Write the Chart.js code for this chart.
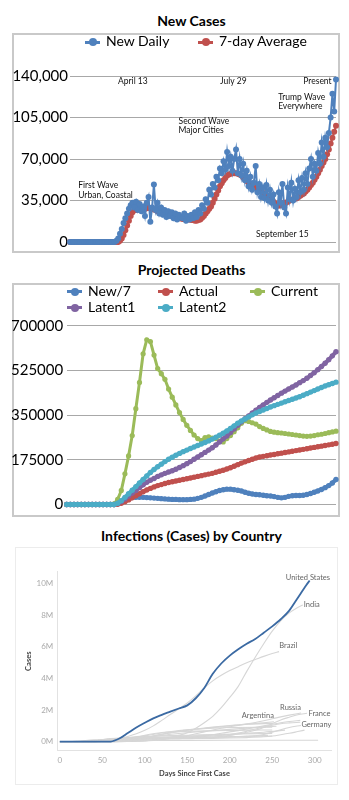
<!DOCTYPE html>
<html>
<head>
<meta charset="utf-8">
<script src="https://cdn.jsdelivr.net/npm/chart.js@4.4.1/dist/chart.umd.min.js"></script>
<style>
body { margin: 0; background: #fff; }
#page { position: relative; width: 349px; height: 800px; overflow: hidden; font-family: Lato, sans-serif; }
.box { position: absolute; box-sizing: border-box; }
canvas { position: absolute; }
.txt { position: absolute; white-space: nowrap; }
.mark { position: absolute; width: 15px; height: 9px; }
.mark::before { content: ''; position: absolute; left: 0; right: 0; top: 3px; height: 3px; background: currentColor; }
.mark::after { content: ''; position: absolute; left: 3.5px; top: 0.5px; width: 8px; height: 8px; border-radius: 50%; background: currentColor; }
</style>
</head>
<body>
<div id="page">
  <div class="box" style="left:12px;top:33px;width:328px;height:220px;border:2px solid #c9c9c9"></div>
  <div class="box" style="left:12px;top:283px;width:328px;height:234px;border:2px solid #c9c9c9"></div>
  <div class="box" style="left:15px;top:547px;width:323px;height:238px;border:1px solid #ececec"></div>
  <canvas id="casesChart" width="328" height="220" style="left:12px;top:33px"></canvas>
  <canvas id="deathsChart" width="328" height="234" style="left:12px;top:283px"></canvas>
  <canvas id="countryChart" width="323" height="238" style="left:15px;top:547px"></canvas>
</div>
<script>
// ---- New Cases (one point every 2 days) ----
const newDaily = [
  0,0,0,0,0,0,0,0,0,0, 0,0,0,0,0,0,0,0,0,0, 0,0,0,0,0,0,
  1000,3000,7000,11000,16000,20000,24000,28000,31000,33000,
  29000,34000,27000,32000,26000,30000,22000,33000,38000,17000,
  29000,48500,27000,33000,24000,29000,23000,27000,21000,26000,
  22000,25000,20000,24000,19000,23000,21000,20000,24000,18000,
  22000,19000,23000,20000,25000,21000,27000,24000,31000,28000,
  36000,33000,44000,40000,49000,46000,55000,52000,62000,58000,
  68000,61000,76000,64000,72000,60000,70000,78000,58000,70000,
  56000,66000,52000,60000,47000,55000,44000,50000,64000,42000,
  49000,38000,46000,37000,48000,35000,44000,33000,40000,30000,
  24000,42000,33000,49000,29000,24000,46000,36000,50000,35000,
  45000,38000,52000,42000,54000,44000,58000,49000,62000,70000,
  55000,66000,60000,75000,66000,84000,72000,88000,80000,92000,
  105000,125000,110000,137000
];
const sevenDayAvg = [
  0,0,0,0,0,0,0,0,0,0, 0,0,0,0,0,0,0,0,0,0, 0,0,0,0,0,0,0,0,
  1000,3000,6000,10000,14000,18000,22000,25000,27000,27000,
  28000,27500,27000,27500,28000,28500,29000,28500,28000,27500,
  27000,26000,25500,25000,24500,24000,23500,23000,22500,22000,
  21500,21000,20500,20000,20000,19500,19500,19000,19000,19000,
  18500,18500,18000,18000,18500,19000,20500,22000,24000,26000,
  28000,30000,33000,36500,40000,43500,47000,49500,52000,54000,
  56000,57000,57500,58000,58000,58000,57500,57000,56000,54500,
  53000,51500,50000,49000,48000,47000,46000,44500,43500,42500,
  41500,40500,39500,38500,37000,35500,34000,32500,31000,30500,
  31000,32000,33000,33000,34000,35000,35500,36000,36500,37000,
  38000,39000,40000,41000,42500,44000,46000,48000,50000,52500,
  55000,58000,61000,64000,67000,70000,74000,78000,83000,88000,
  93000,98000
];
const caseTicks = [0, 35000, 70000, 105000, 140000];
const caseNotes = [
  { text: 'April 13', x: 35.2, y: 135400 },
  { text: 'July 29', x: 91.5, y: 135400 },
  { text: 'Present', x: 138.6, y: 135400 },
  { text: 'Trump Wave', x: 116.6, y: 121800, align: 'left' },
  { text: 'Everywhere', x: 116.6, y: 114300, align: 'left' },
  { text: 'Second Wave', x: 60.8, y: 101800, align: 'left' },
  { text: 'Major Cities', x: 60.8, y: 94000, align: 'left' },
  { text: 'First Wave', x: 4.6, y: 47500, align: 'left' },
  { text: 'Urban, Coastal', x: 4.6, y: 39800, align: 'left' },
  { text: 'September 15', x: 118.9, y: 6800 }
];

// ---- Projected Deaths (one point every 4 days) ----
const newPer7 = [
  0,0,0,0,0,0,0,0,0,0,0,0,0,0,
  3000,9000,17000,23000,27000,28000,28000,28000,27000,26000,
  25000,24000,23000,22000,21000,20000,20000,19000,19000,19000,
  20000,21000,24000,28000,33000,39000,45000,50000,55000,58000,
  60000,60000,58000,56000,53000,48000,44000,41000,39000,38000,
  36000,34000,33000,31000,28000,26000,28000,32000,34000,35000,
  35000,36000,39000,43000,48000,53000,59000,66000,74000,84000,
  98000
];
const actualDeaths = [
  0,0,0,0,0,0,0,0,0,0,0,0,0,0,
  1000,5000,11000,18000,26000,34000,42000,50000,57000,63000,
  69000,74000,78000,82000,86000,89000,92000,95000,98000,101000,
  104000,107000,110000,113000,116000,119000,122000,126000,130000,134000,
  139000,144000,150000,156000,162000,167000,172000,177000,182000,186000,
  188500,191000,193500,196000,198500,201000,203500,206000,208500,211000,
  213500,216000,218500,221000,223500,226000,228500,231000,233500,236000,
  239000
];
const currentDeaths = [
  0,0,0,0,0,0,0,0,0,0,0,0,0,
  3000,20000,55000,120000,190000,270000,375000,478000,590000,645000,
  638000,585000,532000,512000,490000,452000,420000,390000,360000,333000,
  310000,290000,272000,258000,250000,262000,265000,260000,258000,248000,
  245000,258000,270000,285000,300000,318000,328000,325000,320000,315000,
  305000,298000,292000,286000,283000,281000,280000,278000,276000,274000,
  272000,270000,268000,267000,268000,270000,273000,275000,278000,281000,
  284000,287000
];
const latent1 = [
  0,0,0,0,0,0,0,0,0,0,0,0,0,0,
  4000,12000,22000,33000,45000,55000,66000,77000,87000,95000,
  102000,110000,116000,122000,127000,132000,138000,145000,152000,160000,
  168000,177000,186000,195000,204000,213000,222000,233000,245000,257000,
  268000,282000,296000,310000,324000,336000,347000,358000,369000,380000,
  390000,400000,409000,418000,427000,436000,444000,452000,460000,468000,
  477000,485000,494000,505000,516000,528000,540000,553000,567000,582000,
  598000
];
const latent2 = [
  0,0,0,0,0,0,0,0,0,0,0,0,0,0,
  5000,15000,28000,42000,56000,70000,84000,98000,112000,125000,
  137000,148000,158000,168000,177000,185000,193000,200000,207000,213000,
  219000,225000,231000,237000,243000,249000,256000,263000,271000,279000,
  288000,298000,308000,318000,327000,335000,343000,351000,358000,364000,
  370000,376000,382000,387000,392000,397000,402000,407000,412000,417000,
  422000,428000,434000,440000,446000,452000,458000,464000,469000,474000,
  479000
];
const deathTicks = [0, 175000, 350000, 525000, 700000];

// ---- Infections by country: [days since first case, millions] ----
const usCases = [[0,0],[10,0],[20,0],[30,0],[40,0],[50,0],[60,0.01],[70,0.2],[80,0.55],[90,0.9],[100,1.2],[110,1.48],[120,1.7],[130,1.9],[140,2.1],[150,2.3],[160,2.75],[170,3.4],[180,4.3],[190,4.95],[200,5.45],[210,5.85],[220,6.2],[230,6.5],[240,6.9],[250,7.3],[260,7.75],[270,8.3],[280,9.1],[290,9.9],[294,10.2]];
const indiaCases = [[0,0],[50,0],[100,0.05],[110,0.13],[120,0.2],[130,0.28],[140,0.4],[150,0.57],[160,0.85],[170,1.2],[180,1.6],[190,2.15],[200,2.8],[210,3.5],[220,4.45],[230,5.35],[240,6.2],[250,7.0],[260,7.65],[270,8.15],[280,8.5],[286,8.65]];
const brazilCases = [[0,0],[20,0],[40,0.01],[60,0.1],[70,0.2],[80,0.33],[90,0.5],[100,0.72],[110,1.0],[120,1.35],[130,1.72],[140,2.08],[150,2.45],[160,2.9],[170,3.4],[180,3.85],[190,4.2],[200,4.5],[210,4.75],[220,5.0],[230,5.2],[240,5.4],[250,5.58],[258,5.7]];
const russiaCases = [[0,0],[50,0],[60,0.002],[70,0.01],[80,0.05],[90,0.15],[100,0.26],[110,0.37],[120,0.47],[130,0.56],[140,0.64],[150,0.72],[160,0.79],[170,0.84],[180,0.89],[190,0.95],[200,1.0],[210,1.06],[220,1.13],[230,1.22],[240,1.33],[250,1.45],[260,1.57],[270,1.68],[284,1.82]];
const franceCases = [[0,0],[40,0.005],[50,0.03],[60,0.08],[70,0.12],[80,0.14],[90,0.15],[100,0.16],[120,0.17],[140,0.18],[160,0.2],[170,0.23],[180,0.27],[190,0.33],[200,0.4],[210,0.5],[220,0.6],[230,0.72],[240,0.9],[250,1.15],[260,1.38],[270,1.55],[280,1.7],[291,1.8]];
const germanyCases = [[0,0],[40,0.005],[50,0.03],[60,0.1],[70,0.14],[80,0.16],[100,0.18],[140,0.2],[180,0.21],[200,0.23],[220,0.26],[240,0.31],[250,0.36],[260,0.44],[270,0.53],[280,0.64],[288,0.73]];
const argentinaCases = [[0,0],[40,0.002],[60,0.006],[80,0.015],[100,0.045],[110,0.08],[120,0.13],[130,0.2],[140,0.28],[150,0.38],[160,0.5],[170,0.62],[180,0.74],[190,0.85],[200,0.95],[210,1.03],[220,1.1],[230,1.15],[240,1.2],[252,1.26]];
const spainCases = [[0,0],[30,0.001],[40,0.02],[50,0.1],[60,0.17],[70,0.21],[80,0.23],[90,0.24],[120,0.25],[150,0.27],[160,0.3],[170,0.36],[180,0.44],[190,0.53],[200,0.62],[210,0.7],[220,0.8],[230,0.9],[240,1.0],[250,1.1],[260,1.2],[270,1.28],[283,1.35]];
const ukCases = [[0,0],[40,0.005],[50,0.04],[60,0.12],[70,0.18],[80,0.24],[90,0.27],[120,0.29],[150,0.31],[170,0.33],[180,0.36],[190,0.4],[200,0.46],[210,0.55],[220,0.67],[230,0.8],[240,0.92],[250,1.04],[260,1.14],[270,1.19],[283,1.23]];
const italyCases = [[0,0],[30,0.002],[40,0.04],[50,0.13],[60,0.2],[70,0.22],[80,0.23],[100,0.24],[150,0.26],[180,0.27],[200,0.29],[210,0.31],[220,0.34],[230,0.38],[240,0.46],[250,0.6],[260,0.76],[270,0.9],[284,1.03]];
const mexicoCases = [[0,0],[40,0.005],[60,0.04],[80,0.12],[100,0.24],[120,0.4],[140,0.52],[160,0.62],[180,0.7],[200,0.78],[220,0.86],[240,0.94],[255,0.98]];
const peruCases = [[0,0],[30,0.01],[40,0.05],[60,0.15],[80,0.26],[100,0.37],[120,0.55],[140,0.7],[160,0.8],[180,0.86],[200,0.9],[250,0.92]];
const colombiaCases = [[0,0],[40,0.005],[60,0.03],[80,0.1],[100,0.25],[120,0.47],[140,0.67],[160,0.8],[180,0.92],[200,1.02],[220,1.1],[250,1.16]];
const southAfricaCases = [[0,0],[40,0.007],[60,0.04],[80,0.15],[100,0.4],[120,0.58],[140,0.64],[160,0.67],[180,0.69],[200,0.71],[220,0.73],[250,0.74]];
const iranCases = [[0,0],[20,0.02],[40,0.07],[60,0.1],[80,0.15],[100,0.22],[120,0.27],[140,0.32],[160,0.37],[180,0.41],[200,0.45],[220,0.53],[240,0.6],[265,0.73]];
const chinaCases = [[0,0],[10,0.001],[20,0.01],[30,0.04],[40,0.07],[50,0.08],[100,0.083],[200,0.09],[304,0.092]];
const chileCases = [[0,0],[30,0.01],[60,0.1],[80,0.25],[100,0.33],[120,0.37],[150,0.41],[180,0.45],[210,0.49],[250,0.52]];
const turkeyCases = [[0,0],[20,0.03],[40,0.12],[60,0.16],[80,0.19],[100,0.21],[120,0.23],[150,0.26],[180,0.3],[210,0.33],[245,0.4]];
const pakistanCases = [[0,0],[60,0.03],[90,0.1],[110,0.2],[130,0.26],[150,0.28],[180,0.3],[210,0.32],[250,0.35]];
const otherCountries = [indiaCases, brazilCases, russiaCases, franceCases, germanyCases, argentinaCases,
  spainCases, ukCases, italyCases, mexicoCases, peruCases, colombiaCases, southAfricaCases,
  iranCases, chinaCases, chileCases, turkeyCases, pakistanCases];
const countryNotes = [
  { text: 'United States', x: 292, y: 10.38 },
  { text: 'India', x: 296.5, y: 8.65 },
  { text: 'Brazil', x: 269, y: 6.08 },
  { text: 'Russia', x: 271.5, y: 2.18 },
  { text: 'France', x: 305.6, y: 1.8 },
  { text: 'Germany', x: 302, y: 1.1 },
  { text: 'Argentina', x: 233, y: 1.65 }
];
const dayTicks = [0, 50, 100, 150, 200, 250, 300];
const millionTicks = [0, 2, 4, 6, 8, 10];

const BLUE = '#4f81bd', RED = '#c0504d', GREEN = '#9bbb59', PURPLE = '#8064a2', CYAN = '#4bacc6';
Chart.defaults.font.family = 'Lato';

const page = document.getElementById('page');

// text at a baseline position (Lato ascent ~0.987em)
function addText(text, x, baseline, size, weight, color, align) {
  const d = document.createElement('div');
  d.className = 'txt';
  d.textContent = text;
  d.style.font = weight + ' ' + size + 'px Lato, sans-serif';
  d.style.lineHeight = (size * 1.2) + 'px';
  d.style.color = color;
  d.style.top = (baseline - 0.987 * size) + 'px';
  if (align === 'center') {
    d.style.left = (x - 150) + 'px';
    d.style.width = '300px';
    d.style.textAlign = 'center';
  } else {
    d.style.left = x + 'px';
  }
  page.append(d);
}

function addKey(label, color, x, y) {
  const m = document.createElement('div');
  m.className = 'mark';
  m.style.color = color;
  m.style.left = x + 'px';
  m.style.top = (y - 4.5) + 'px';
  page.append(m);
  addText(label, x + 21, y + 5, 14, 'normal', '#000');
}

addText('New Cases', 191.5, 26.7, 14, 'bold', '#000', 'center');
addText('Projected Deaths', 191.5, 276.3, 14, 'bold', '#000', 'center');
addText('Infections (Cases) by Country', 191.5, 541.5, 14, 'bold', '#000', 'center');

addKey('New Daily', BLUE, 85, 42);
addKey('7-day Average', RED, 198, 42);

addKey('New/7', BLUE, 67, 291.7);
addKey('Actual', RED, 158, 291.7);
addKey('Current', GREEN, 250, 291.7);
addKey('Latent1', PURPLE, 67, 307.7);
addKey('Latent2', CYAN, 158, 307.7);

// writes short notes at data positions
const notesPlugin = {
  id: 'notes',
  afterDatasetsDraw(chart, args, opts) {
    const { ctx, scales: { x, y } } = chart;
    ctx.save();
    ctx.font = opts.font;
    ctx.fillStyle = opts.color;
    ctx.textBaseline = 'middle';
    for (const n of opts.items) {
      ctx.textAlign = n.align || 'center';
      ctx.fillText(n.text, x.getPixelForValue(n.x), y.getPixelForValue(n.y));
    }
    ctx.restore();
  }
};

function dotted(label, data, color, extra) {
  return Object.assign({
    label: label,
    data: data,
    borderColor: color,
    backgroundColor: color,
    pointBackgroundColor: color,
    pointBorderWidth: 0,
    clip: false
  }, extra);
}

const caseDays = newDaily.map((_, i) => i * 2);

new Chart(document.getElementById('casesChart'), {
  type: 'line',
  data: {
    labels: caseDays,
    datasets: [
      dotted('New Daily', newDaily, BLUE, { borderWidth: 2, pointRadius: 3 }),
      dotted('7-day Average', sevenDayAvg, RED, { borderWidth: 2, pointRadius: 3 })
    ]
  },
  options: {
    responsive: false,
    animation: false,
    layout: { padding: { left: 0, right: 3, top: 43, bottom: 8.5 } },
    plugins: {
      legend: { display: false },
      tooltip: { enabled: false },
      notes: { items: caseNotes, font: '8.5px Lato', color: '#111' }
    },
    scales: {
      x: { display: false },
      y: {
        min: 0,
        max: 140000,
        afterFit(s) { s.width = 58; },
        afterBuildTicks(s) { s.ticks = caseTicks.map(v => ({ value: v })); },
        grid: { color: '#a8a8a8', drawTicks: false },
        border: { display: false },
        ticks: { padding: 2, color: '#000', font: { size: 15 }, callback: v => v.toLocaleString('en-US') }
      }
    }
  },
  plugins: [notesPlugin]
});

const deathDays = newPer7.map((_, i) => i * 4);
const deathStyle = { borderWidth: 4, pointRadius: 2.7 };

new Chart(document.getElementById('deathsChart'), {
  type: 'line',
  data: {
    labels: deathDays,
    datasets: [
      dotted('New/7', newPer7, BLUE, Object.assign({ order: 4 }, deathStyle)),
      dotted('Actual', actualDeaths, RED, Object.assign({ order: 3 }, deathStyle)),
      dotted('Current', currentDeaths, GREEN, { order: 2, borderWidth: 3, pointRadius: 2.6 }),
      dotted('Latent1', latent1, PURPLE, Object.assign({ order: 1 }, deathStyle)),
      dotted('Latent2', latent2, CYAN, Object.assign({ order: 0 }, deathStyle))
    ]
  },
  options: {
    responsive: false,
    animation: false,
    layout: { padding: { left: 0, right: 2.5, top: 42.7, bottom: 8.7 } },
    plugins: { legend: { display: false }, tooltip: { enabled: false } },
    scales: {
      x: { display: false },
      y: {
        min: 0,
        max: 700000,
        afterFit(s) { s.width = 54.7; },
        afterBuildTicks(s) { s.ticks = deathTicks.map(v => ({ value: v })); },
        grid: { color: '#a8a8a8', drawTicks: false },
        border: { display: false },
        ticks: { padding: 3.5, color: '#000', font: { size: 15 }, callback: v => String(v) }
      }
    }
  }
});

const toPoints = arr => arr.map(([x, y]) => ({ x, y }));
const countrySets = [{
  data: toPoints(usCases), borderColor: '#3b6aa3', borderWidth: 1.8, pointRadius: 0,
  cubicInterpolationMode: 'monotone'
}].concat(otherCountries.map(c => ({
  data: toPoints(c), borderColor: '#d6d6d6', borderWidth: 1.1, pointRadius: 0,
  cubicInterpolationMode: 'monotone'
})));

new Chart(document.getElementById('countryChart'), {
  type: 'line',
  data: { datasets: countrySets },
  options: {
    responsive: false,
    animation: false,
    layout: { padding: { left: 0, right: 6.3, top: 24.7, bottom: 4 } },
    plugins: {
      legend: { display: false },
      tooltip: { enabled: false },
      notes: { items: countryNotes, font: '7.5px Lato', color: '#666' }
    },
    scales: {
      x: {
        type: 'linear',
        min: -3,
        max: 320,
        afterFit(s) { s.height = 30.3; },
        afterBuildTicks(s) { s.ticks = dayTicks.map(v => ({ value: v })); },
        grid: { display: false, drawTicks: false },
        border: { display: true, color: '#e2e2e2' },
        ticks: { padding: 5, color: '#aaa', font: { size: 8 } },
        title: { display: true, text: 'Days Since First Case', color: '#444', font: { size: 7.5, weight: 'bold' }, padding: { top: 0, bottom: 2.5 } }
      },
      y: {
        min: -0.57,
        max: 10.76,
        afterFit(s) { s.width = 42.3; },
        afterBuildTicks(s) { s.ticks = millionTicks.map(v => ({ value: v })); },
        grid: { display: false, drawTicks: false },
        border: { display: true, color: '#e2e2e2' },
        ticks: { padding: 4, color: '#aaa', font: { size: 8 }, callback: v => v + 'M' },
        title: { display: true, text: 'Cases', color: '#444', font: { size: 7.5, weight: 'bold' }, padding: { top: 8.8, bottom: 0 } }
      }
    }
  },
  plugins: [notesPlugin]
});
</script>
</body>
</html>
